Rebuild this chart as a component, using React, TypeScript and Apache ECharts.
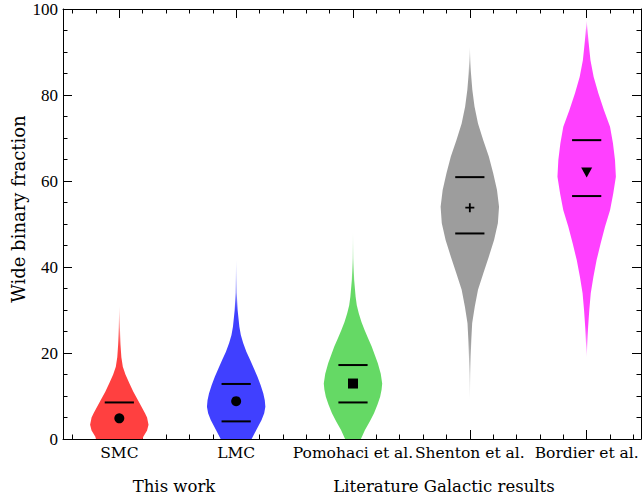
import React, { useEffect, useRef } from 'react';
import * as echarts from 'echarts';

const categories = ['SMC', 'LMC', 'Pomohaci et al.', 'Shenton et al.', 'Bordier et al.'];
const groupLabels = ['This work', 'Literature Galactic results'];
const yAxisTitle = 'Wide binary fraction';

// violin outlines: [fraction value, relative half-width]
const smcProfile = [[0, 0.8], [0.5, 0.82], [2, 0.95], [3.3, 1.0], [5, 0.95], [6, 0.88], [7.5, 0.76], [9.1, 0.63], [11, 0.48], [13, 0.34], [15, 0.21], [16.8, 0.12], [19, 0.07], [22, 0.04], [26, 0.02], [31, 0]];
const lmcProfile = [[0, 0.53], [2.1, 0.69], [4.4, 0.87], [6, 0.96], [7.5, 1.0], [9, 0.98], [10.6, 0.93], [12.5, 0.84], [14.5, 0.73], [16.5, 0.6], [18.4, 0.48], [20.3, 0.35], [22.3, 0.24], [24.2, 0.16], [26.1, 0.11], [30, 0.05], [34, 0.02], [41.6, 0]];
const pomohaciProfile = [[0, 0.27], [2.1, 0.41], [4, 0.57], [6, 0.72], [8, 0.84], [9.8, 0.93], [11.5, 0.98], [12.9, 1.0], [15.2, 0.95], [17.6, 0.85], [19.5, 0.75], [21.5, 0.64], [23.4, 0.52], [25.3, 0.4], [27.2, 0.29], [29.2, 0.2], [31.1, 0.13], [33.1, 0.09], [37, 0.04], [42, 0.015], [48, 0]];
const shentonProfile = [[9, 0], [15, 0.015], [19.1, 0.03], [23, 0.05], [26.9, 0.08], [30.8, 0.17], [34.7, 0.28], [38.5, 0.46], [42.4, 0.65], [46.3, 0.83], [50.2, 0.96], [54, 1.0], [57.9, 0.93], [61.8, 0.8], [65.7, 0.65], [69.5, 0.46], [73.4, 0.28], [77.3, 0.16], [81.2, 0.085], [85, 0.04], [88, 0.02], [91.2, 0]];
const bordierProfile = [[19, 0], [22.5, 0.025], [26.1, 0.05], [30, 0.09], [33.9, 0.14], [37.7, 0.23], [41.6, 0.34], [45.5, 0.48], [49.4, 0.63], [53.2, 0.8], [57.1, 0.91], [61, 1.0], [64.9, 0.97], [68.8, 0.9], [72.6, 0.8], [76.5, 0.59], [80.4, 0.4], [84.2, 0.24], [88.1, 0.13], [92, 0.07], [95, 0.03], [97.4, 0]];
const profiles = [smcProfile, lmcProfile, pomohaciProfile, shentonProfile, bordierProfile];

const centralValues = [4.8, 8.8, 12.9, 53.8, 62.0];
const upperLines = [8.5, 12.8, 17.2, 60.9, 69.5];
const lowerLines: (number | null)[] = [null, 4.1, 8.5, 47.8, 56.5];

const violinColors = [[255, 64, 64], [64, 64, 255], [101, 217, 101], [157, 157, 157], [255, 64, 255]];
const markerSymbols = ['circle', 'circle', 'rect', 'path://M4,0H6V4H10V6H6V10H4V6H0V4H4Z', 'triangle'];

const X_MIN = -0.482;
const X_MAX = 4.465;
const HALF = 0.25;
const LINE_HALF = 0.125;
const FADE_WIDTH = 0.05;
const majorX = categories.map((_, i) => i);
const minorX: number[] = [];
for (let i = -1; i <= 4; i++) {
  for (let k = 1; k <= 4; k++) {
    const v = Math.round((i + k * 0.2) * 10) / 10;
    if (v > X_MIN && v < X_MAX) minorX.push(v);
  }
}

const TEXT_FONT = 'DejaVu Serif';
const NUM_FONT = 'Liberation Serif';

export default function App() {
  const ref = useRef<HTMLDivElement>(null);
  useEffect(() => {
    if (!ref.current) return;
    const chart = echarts.init(ref.current, null, { renderer: 'svg' });
    const black = { color: '#000', width: 1 };
    const xBase = (pos: string, major: boolean, labels: boolean) => ({
      type: 'value',
      position: pos,
      min: X_MIN,
      max: X_MAX,
      axisLine: { show: major, onZero: false, lineStyle: black },
      axisTick: { show: true, inside: true, length: major ? 9 : 4.5, customValues: major ? majorX : minorX, lineStyle: black },
      axisLabel: labels
        ? { show: true, customValues: majorX, formatter: (v: number) => categories[Math.round(v)] ?? '', fontFamily: TEXT_FONT, fontSize: 15.5, color: '#000', margin: 6 }
        : { show: false },
      splitLine: { show: false },
    });
    const yBase = (pos: string, labels: boolean) => ({
      type: 'value',
      position: pos,
      min: 0,
      max: 100,
      interval: 20,
      axisLine: { show: true, onZero: false, lineStyle: black },
      axisTick: { show: true, inside: true, length: 9, lineStyle: black },
      minorTick: { show: true, splitNumber: 4, length: 4.5, lineStyle: black },
      axisLabel: labels ? { show: true, fontFamily: NUM_FONT, fontSize: 17, color: '#000', margin: 5 } : { show: false },
      splitLine: { show: false },
      minorSplitLine: { show: false },
    });

    const rgba = (c: number[], a: number) => `rgba(${c[0]},${c[1]},${c[2]},${a})`;

    const option: any = {
      animation: false,
      backgroundColor: '#fff',
      grid: { left: 63, right: 1, top: 9, bottom: 56, containLabel: false },
      xAxis: [xBase('bottom', true, true), xBase('bottom', false, false), xBase('top', true, false), xBase('top', false, false)],
      yAxis: [yBase('left', true), yBase('right', false)],
      graphic: [
        { type: 'text', x: 18, y: 209, rotation: Math.PI / 2, style: { text: yAxisTitle, font: `18px "${TEXT_FONT}"`, fill: '#000', textAlign: 'center', textVerticalAlign: 'middle' } },
        { type: 'text', x: 174, y: 486, style: { text: groupLabels[0], font: `16.5px "${TEXT_FONT}"`, fill: '#000', textAlign: 'center', textVerticalAlign: 'middle' } },
        { type: 'text', x: 444, y: 486, style: { text: groupLabels[1], font: `16.5px "${TEXT_FONT}"`, fill: '#000', textAlign: 'center', textVerticalAlign: 'middle' } },
      ],
      series: [
        {
          type: 'custom',
          xAxisIndex: 0,
          yAxisIndex: 0,
          clip: true,
          data: categories.map((_, i) => [i]),
          renderItem: (params: any, api: any) => {
            const i = api.value(0);
            const prof = profiles[i];
            const right = prof.map(([v, w]) => api.coord([i + w * HALF, v]));
            const left = prof.slice().reverse().map(([v, w]) => api.coord([i - w * HALF, v]));
            const yTop = api.coord([i, prof[prof.length - 1][0]])[1];
            const yBot = api.coord([i, prof[0][0]])[1];
            const stops = prof
              .slice()
              .reverse()
              .map(([v, w]) => ({
                offset: Math.max(0, Math.min(1, (api.coord([i, v])[1] - yTop) / (yBot - yTop))),
                color: rgba(violinColors[i], Math.min(1, 0.15 + w / FADE_WIDTH)),
              }));
            const children: any[] = [
              {
                type: 'polygon',
                shape: { points: right.concat(left) },
                style: {
                  fill: { type: 'linear', x: 0, y: yTop, x2: 0, y2: yBot, global: true, colorStops: stops },
                  stroke: null,
                },
              },
            ];
            [upperLines[i], lowerLines[i]].forEach((v) => {
              if (v == null) return;
              const a = api.coord([i - LINE_HALF, v]);
              const b = api.coord([i + LINE_HALF, v]);
              children.push({ type: 'line', shape: { x1: a[0], y1: a[1], x2: b[0], y2: b[1] }, style: { stroke: '#000', lineWidth: 2 } });
            });
            return { type: 'group', children };
          },
        },
        {
          type: 'scatter',
          xAxisIndex: 0,
          yAxisIndex: 0,
          z: 5,
          itemStyle: { color: '#000', opacity: 1 },
          data: centralValues.map((v, i) => ({
            value: [i, v],
            symbol: markerSymbols[i],
            symbolSize: i === 4 ? [11, 10] : i === 3 ? 9 : 10,
            symbolRotate: i === 4 ? 180 : 0,
          })),
        },
      ],
    };
    chart.setOption(option);
    return () => chart.dispose();
  }, []);
  return <div ref={ref} style={{ position: 'fixed', left: 0, top: 0, width: 642, height: 495, background: '#fff' }} />;
}
